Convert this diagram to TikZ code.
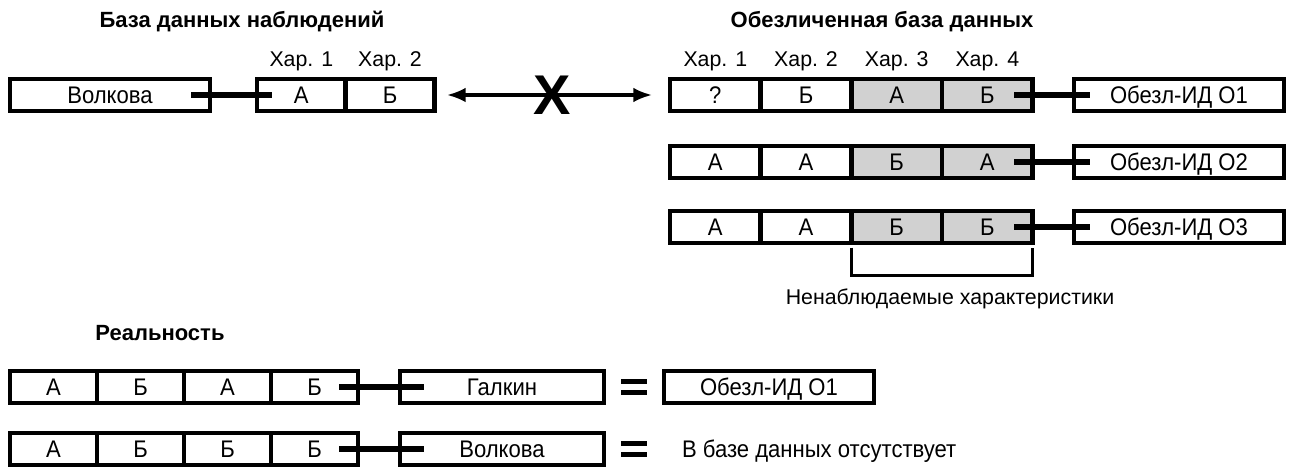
\documentclass[tikz,border=0pt]{standalone}
\usepackage{fontspec}
\setmainfont{Liberation Sans}
\newfontfamily\cellfont[FakeStretch=0.92]{Liberation Sans}
\usetikzlibrary{positioning, arrows.meta, calc}

\tikzset{
	cell/.style={draw, line width=3.7pt, minimum width=68pt, minimum height=24pt, inner sep=0pt, outer sep=0pt,
		text height=12.9pt, text depth=0pt, font=\cellfont\fontsize{18}{21}\selectfont},
	unobs/.style={cell, fill=black!18},
	idbox/.style={cell, minimum width=157.5pt},
	link/.style={line width=3.8pt},
	heading/.style={inner sep=0pt, font=\bfseries\fontsize{16.5}{20}\selectfont},
	note/.style={inner sep=0pt, font=\fontsize{16}{19}\selectfont},
	bracket/.style={line width=2.2pt},
}

\begin{document}
\begin{tikzpicture}[x=0.75pt, y=-0.75pt]
\useasboundingbox (0,0) rectangle (1289,474);

% observation database
\node[heading] (tobs) at (242,22) {База данных наблюдений};
\node[cell, minimum width=150pt, anchor=west] (volk) at (10,95) {Волкова};
\node[cell, minimum width=66.5pt, anchor=west] (n1) at (257,95) {А};
\node[cell, minimum width=66.5pt, right=0pt of n1] (n2) {Б};
\node[note, above=5.5pt of n1] {Хар. 1};
\node[note, above=5.5pt of n2] {Хар. 2};
\draw[link] ([xshift=-14pt]volk.east) -- ([xshift=11pt]n1.west);

% anonymised database
\node[heading] (tanon) at (882,22) {Обезличенная база данных};
\node[cell, anchor=west] (a11) at (670,95) {?};
\node[cell, right=0pt of a11] (a12) {Б};
\node[unobs, right=0pt of a12] (a13) {А};
\node[unobs, right=0pt of a13] (a14) {Б};
\node[idbox, anchor=west] (id1) at (1074,95) {Обезл-ИД О1};
\node[note, above=5.5pt of a11] {Хар. 1};
\node[note, above=5.5pt of a12] {Хар. 2};
\node[note, above=5.5pt of a13] {Хар. 3};
\node[note, above=5.5pt of a14] {Хар. 4};

\node[cell, anchor=west] (a21) at (670,162) {А};
\node[cell, right=0pt of a21] (a22) {А};
\node[unobs, right=0pt of a22] (a23) {Б};
\node[unobs, right=0pt of a23] (a24) {А};
\node[idbox, anchor=west] (id2) at (1074,162) {Обезл-ИД О2};

\node[cell, anchor=west] (a31) at (670,227) {А};
\node[cell, right=0pt of a31] (a32) {А};
\node[unobs, right=0pt of a32] (a33) {Б};
\node[unobs, right=0pt of a33] (a34) {Б};
\node[idbox, anchor=west] (id3) at (1074,227) {Обезл-ИД О3};

\draw[link] ([xshift=-14pt]a14.east) -- ([xshift=12pt]id1.west);
\draw[link] ([xshift=-14pt]a24.east) -- ([xshift=12pt]id2.west);
\draw[link] ([xshift=-14pt]a34.east) -- ([xshift=12pt]id3.west);

\draw[bracket] ([yshift=-3.4pt]a33.south west) -- ++(0,-21pt)
	-| node[pos=0.25, below=9pt, note, xshift=6pt] {Ненаблюдаемые характеристики} ([yshift=-3.4pt]a34.south east);

% no link between the two
\draw[line width=2.4pt, {Latex[length=14pt,width=11pt]}-{Latex[length=14pt,width=11pt]}, shorten <=9.5pt, shorten >=13.5pt]
	(n2.east) -- node[inner sep=0pt, font=\bfseries\fontsize{42}{42}\selectfont] (cross) {X} (a11.west);

% reality
\node[heading] (treal) at (160,333) {Реальность};
\node[cell, minimum width=65.25pt, anchor=west] (r11) at (10,387) {А};
\node[cell, minimum width=65.25pt, right=0pt of r11] (r12) {Б};
\node[cell, minimum width=65.25pt, right=0pt of r12] (r13) {А};
\node[cell, minimum width=65.25pt, right=0pt of r13] (r14) {Б};
\node[idbox, minimum width=153pt, anchor=west] (gal) at (400,387) {Галкин};
\node[idbox, anchor=west] (id4) at (664,387) {Обезл-ИД О1};
\draw[link] ([xshift=-14pt]r14.east) -- ([xshift=18pt]gal.west);

\node[cell, minimum width=65.25pt, anchor=west] (r21) at (10,449) {А};
\node[cell, minimum width=65.25pt, right=0pt of r21] (r22) {Б};
\node[cell, minimum width=65.25pt, right=0pt of r22] (r23) {Б};
\node[cell, minimum width=65.25pt, right=0pt of r23] (r24) {Б};
\node[idbox, minimum width=153pt, anchor=west] (vol2) at (400,449) {Волкова};
\node[cell, draw=none, anchor=west] (absent) at (682,449) {В базе данных отсутствует};
\draw[link] ([xshift=-14pt]r24.east) -- ([xshift=18pt]vol2.west);

% equal signs
\coordinate (eq1) at ($(gal.east)!0.5!(id4.west)$);
\coordinate (eq2) at (eq1 |- vol2);
\foreach \e in {eq1,eq2} {
	\fill ([shift={(-9.75pt,2.2pt)}]\e) rectangle ++(19.5pt,3.75pt);
	\fill ([shift={(-9.75pt,-5.95pt)}]\e) rectangle ++(19.5pt,3.75pt);
}
\end{tikzpicture}
\end{document}
